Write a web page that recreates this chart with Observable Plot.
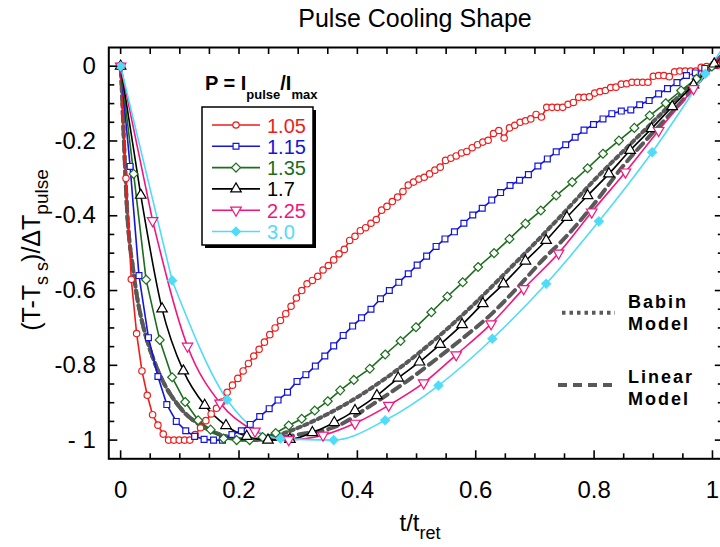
<!DOCTYPE html>
<html><head><meta charset="utf-8">
<script src="https://cdn.jsdelivr.net/npm/d3@7"></script>
<script src="https://cdn.jsdelivr.net/npm/@observablehq/plot@0.6"></script>
<style>
html,body{margin:0;padding:0;background:#fff;overflow:hidden;}
</style></head><body><div id="chart"></div>
<script>
// ---------- data ----------
const redX = [0,0.009,0.018,0.027,0.036,0.045,0.054,0.063,0.072,0.081,0.09,0.099,0.108,0.117,0.126,0.135,0.144,0.153,0.162,0.171,0.18,0.189,0.198,0.207,0.216,0.225,0.234,0.243,0.252,0.261,0.27,0.279,0.288,0.297,0.306,0.315,0.324,0.333,0.342,0.351,0.36,0.369,0.378,0.387,0.396,0.405,0.414,0.423,0.432,0.441,0.45,0.459,0.468,0.477,0.486,0.495,0.504,0.513,0.522,0.531,0.54,0.549,0.558,0.567,0.576,0.585,0.594,0.603,0.612,0.621,0.63,0.639,0.648,0.657,0.666,0.675,0.684,0.693,0.702,0.711,0.72,0.729,0.738,0.747,0.756,0.765,0.774,0.783,0.792,0.801,0.81,0.819,0.828,0.837,0.846,0.855,0.864,0.873,0.882,0.891,0.9,0.909,0.918,0.927,0.936,0.945,0.954,0.963,0.972,0.981,0.99,0.999,1.008,1.017];
const redY = [0,-0.30,-0.57,-0.715,-0.815,-0.88,-0.932,-0.96,-0.984,-1.0,
  -1.0,-1.0,-1.0,-1.0,
  -0.985,-0.967,-0.948,-0.93,-0.915,-0.898,
  -0.872,-0.853,-0.835,-0.815,-0.795,-0.775,-0.757,-0.738,-0.718,-0.7,
  -0.68,-0.662,-0.642,-0.62,-0.6,-0.582,-0.573,-0.562,-0.545,-0.533,
  -0.518,-0.502,-0.49,-0.466,-0.455,-0.44,-0.432,-0.42,-0.41,-0.385,
  -0.375,-0.362,-0.35,-0.335,-0.318,-0.31,-0.302,-0.297,-0.288,-0.278,
  -0.27,-0.252,-0.246,-0.24,-0.232,-0.228,-0.218,-0.21,-0.203,-0.198,
  -0.18,-0.172,-0.192,-0.165,-0.158,-0.15,-0.146,-0.141,-0.129,-0.136,
  -0.11,-0.11,-0.11,-0.11,-0.102,-0.097,-0.083,-0.083,-0.082,-0.072,
  -0.068,-0.065,-0.057,-0.056,-0.048,-0.047,-0.043,-0.043,-0.043,-0.043,
  -0.027,-0.025,-0.025,-0.028,-0.015,-0.013,-0.013,-0.013,-0.013,-0.003,
  -0.001,-0.001,0.002,0.011];

const blueX = [0,0.016,0.031,0.047,0.063,0.078,0.094,0.11,0.125,0.141,0.157,0.172,0.188,0.204,0.219,0.235,0.251,0.266,0.282,0.298,0.313,0.329,0.345,0.36,0.376,0.392,0.407,0.423,0.439,0.454,0.47,0.486,0.501,0.517,0.533,0.548,0.564,0.58,0.595,0.611,0.627,0.642,0.658,0.674,0.689,0.705,0.721,0.736,0.752,0.768,0.783,0.799,0.815,0.83,0.846,0.862,0.877,0.893,0.909,0.924,0.94,0.956,0.971,0.987,1.003,1.018];
const blueY = [0,-0.268,-0.56,-0.726,-0.83,-0.905,-0.95,-0.975,-0.99,-0.998,-1.0,-1.0,-0.985,-0.975,-0.958,-0.937,-0.916,-0.893,-0.872,-0.843,-0.825,-0.802,-0.775,-0.748,-0.72,-0.695,-0.673,-0.65,-0.622,-0.6,-0.578,-0.555,-0.532,-0.508,-0.482,-0.462,-0.443,-0.42,-0.398,-0.38,-0.358,-0.338,-0.319,-0.305,-0.29,-0.267,-0.248,-0.229,-0.21,-0.19,-0.171,-0.156,-0.141,-0.127,-0.12,-0.117,-0.103,-0.092,-0.074,-0.06,-0.044,-0.025,-0.018,-0.006,0.003,0.012];

const greenX = [0,0.022,0.043,0.066,0.087,0.109,0.131,0.152,0.174,0.196,0.218,0.24,0.262,0.284,0.306,0.328,0.35,0.371,0.394,0.421,0.447,0.473,0.499,0.525,0.552,0.578,0.604,0.631,0.657,0.684,0.71,0.736,0.763,0.789,0.815,0.842,0.868,0.894,0.921,0.947,0.973,0.999,1.026];
const greenY = [0,-0.288,-0.571,-0.732,-0.832,-0.898,-0.947,-0.972,-0.996,-1.0,-1.0,-0.992,-0.981,-0.961,-0.943,-0.921,-0.896,-0.867,-0.839,-0.809,-0.771,-0.735,-0.698,-0.658,-0.616,-0.578,-0.537,-0.5,-0.462,-0.421,-0.386,-0.346,-0.31,-0.273,-0.234,-0.199,-0.165,-0.132,-0.099,-0.065,-0.034,-0.001,0.032];

const blackX = [0,0.034,0.07,0.106,0.142,0.178,0.213,0.249,0.286,0.324,0.361,0.396,0.433,0.469,0.505,0.54,0.577,0.612,0.647,0.684,0.719,0.754,0.789,0.825,0.861,0.897,0.932,0.968,1.003,1.039];
const blackY = [0,-0.345,-0.649,-0.815,-0.907,-0.961,-0.99,-1.0,-0.998,-0.98,-0.953,-0.921,-0.881,-0.834,-0.791,-0.744,-0.691,-0.635,-0.582,-0.521,-0.466,-0.404,-0.346,-0.288,-0.225,-0.167,-0.108,-0.05,0.006,0.064];

const pinkX = [0,0.054,0.113,0.168,0.227,0.284,0.342,0.396,0.453,0.512,0.567,0.626,0.681,0.74,0.796,0.853,0.909,0.968,1.025];
const pinkY = [0,-0.413,-0.749,-0.901,-0.976,-0.999,-0.987,-0.955,-0.907,-0.847,-0.772,-0.689,-0.595,-0.5,-0.39,-0.283,-0.172,-0.06,0.05];

const cyanX = [0,0.087,0.18,0.27,0.36,0.447,0.537,0.628,0.719,0.808,0.898,0.988,1.078];
const cyanY = [0,-0.573,-0.892,-0.996,-1.0,-0.947,-0.854,-0.729,-0.582,-0.415,-0.23,-0.02,0.19];

const babinX = [0,0.002,0.005,0.008,0.011,0.015,0.02,0.027,0.035,0.045,0.055,0.066,0.078,0.094,0.11,0.13,0.155,0.185,0.22,0.258,0.303,0.35,0.4,0.45,0.5,0.55,0.6,0.65,0.7,0.75,0.8,0.85,0.9,0.95,1.0,1.03];
const babinY = [0,-0.06,-0.18,-0.29,-0.39,-0.47,-0.53,-0.61,-0.675,-0.735,-0.782,-0.825,-0.862,-0.9,-0.93,-0.955,-0.977,-0.993,-1.0,-0.99,-0.965,-0.93,-0.885,-0.832,-0.772,-0.705,-0.632,-0.553,-0.473,-0.39,-0.305,-0.226,-0.148,-0.07,0.005,0.05];

const linearX = [0,0.002,0.005,0.008,0.011,0.015,0.02,0.027,0.035,0.045,0.055,0.066,0.078,0.094,0.11,0.13,0.155,0.185,0.22,0.26,0.3,0.365,0.425,0.484,0.523,0.58,0.625,0.67,0.715,0.749,0.794,0.85,0.895,0.945,1.0,1.03];
const linearY = [0,-0.06,-0.18,-0.29,-0.39,-0.47,-0.53,-0.61,-0.675,-0.735,-0.782,-0.825,-0.862,-0.9,-0.93,-0.955,-0.977,-0.993,-1.0,-0.995,-0.985,-0.963,-0.905,-0.842,-0.796,-0.725,-0.665,-0.593,-0.515,-0.462,-0.38,-0.265,-0.185,-0.1,0.0,0.05];

const seriesNames = ["1.05","1.15","1.35","1.7","2.25","3.0"];
const xMajor = [0,0.2,0.4,0.6,0.8,1];
const xTickLabels = ["0","0.2","0.4","0.6","0.8","1"];
const xMinor = [0.05,0.1,0.15,0.25,0.3,0.35,0.45,0.5,0.55,0.65,0.7,0.75,0.85,0.9,0.95];
const yMajor = [-1,-0.8,-0.6,-0.4,-0.2,0];
const yTickLabels = ["- 1","-0.8","-0.6","-0.4","-0.2","0"];
const yMinor = [-0.95,-0.9,-0.85,-0.75,-0.7,-0.65,-0.55,-0.5,-0.45,-0.35,-0.3,-0.25,-0.15,-0.1,-0.05];

// ---------- layout ----------
const W = 720, H = 547;
const mt = 47, mb = 88.7, ml = 108.3, mr = -3.8;
const fw = W - ml - mr, fh = H - mt - mb;
const FONT = "'Liberation Sans', Arial, Helvetica, sans-serif";
const GREY = "#595959";
const DOT = "3.5,4", DASH = "9,6";

const styles = [
  {xs: redX,   ys: redY,   color: "#ee1c1c", symbol: "circle",   r: 3.2, fill: "white", rotate: 0,   smooth: false},
  {xs: blueX,  ys: blueY,  color: "#1515dd", symbol: "square",   r: 3.3, fill: "white", rotate: 0,   smooth: false},
  {xs: greenX, ys: greenY, color: "#1b6e1b", symbol: "diamond2", r: 4.0, fill: "white", rotate: 0,   smooth: false},
  {xs: blackX, ys: blackY, color: "#000000", symbol: "triangle", r: 3.9, fill: "white", rotate: 0,   smooth: true},
  {xs: pinkX,  ys: pinkY,  color: "#f2157f", symbol: "triangle", r: 3.9, fill: "white", rotate: 180, smooth: true},
  {xs: cyanX,  ys: cyanY,  color: "#50dcf8", symbol: "diamond2", r: 4.0, fill: "#50dcf8", rotate: 0, smooth: true}
];
const rowsOf = (xs, ys) => xs.map((x, i) => ({x, y: ys[i]}));

const marks = [];
// model curves
marks.push(Plot.line(rowsOf(babinX, babinY), {x: "x", y: "y", stroke: GREY, strokeWidth: 4, strokeDasharray: DOT, curve: "monotone-x"}));
marks.push(Plot.line(rowsOf(linearX, linearY), {x: "x", y: "y", stroke: GREY, strokeWidth: 4, strokeDasharray: DASH, curve: "monotone-x"}));
// data series
for (const s of styles) {
  const rows = rowsOf(s.xs, s.ys);
  if (s.smooth) {
    marks.push(Plot.line(rows.slice(0, 2), {x: "x", y: "y", stroke: s.color, strokeWidth: 1.6}));
    marks.push(Plot.line(rows.slice(1), {x: "x", y: "y", stroke: s.color, strokeWidth: 1.6, curve: "monotone-x"}));
  } else {
    marks.push(Plot.line(rows, {x: "x", y: "y", stroke: s.color, strokeWidth: 1.6}));
  }
}
for (const s of styles) {
  const rows = rowsOf(s.xs, s.ys);
  marks.push(Plot.dot(rows, {x: "x", y: "y", symbol: s.symbol, r: s.r, stroke: s.color, fill: s.fill, strokeWidth: 1.2, rotate: s.rotate}));
}
// inward ticks on all four sides
const tk = {stroke: "black", strokeWidth: 1.6};
marks.push(Plot.tickX(xMajor, {x: d => d, insetTop: fh - 8, ...tk}));
marks.push(Plot.tickX(xMinor, {x: d => d, insetTop: fh - 5, ...tk}));
marks.push(Plot.tickX(xMajor.concat(xMinor), {x: d => d, insetBottom: fh - 7, ...tk}));
marks.push(Plot.tickY(yMajor, {y: d => d, insetRight: fw - 9, ...tk}));
marks.push(Plot.tickY(yMinor, {y: d => d, insetRight: fw - 6, ...tk}));
marks.push(Plot.tickY(yMajor, {y: d => d, insetLeft: fw - 9, ...tk}));
marks.push(Plot.tickY(yMinor, {y: d => d, insetLeft: fw - 6, ...tk}));
marks.push(Plot.frame({stroke: "black", strokeWidth: 2}));

const idx = (arr, d) => arr.findIndex(v => Math.abs(v - d) < 1e-9);
const chart = Plot.plot({
  width: W, height: H,
  marginTop: mt, marginBottom: mb, marginLeft: ml, marginRight: mr,
  style: {fontFamily: FONT, fontSize: "24px", color: "black", background: "white", overflow: "hidden"},
  x: {domain: [-0.02, 1.02], ticks: xMajor, tickSize: 0, tickPadding: 22, tickFormat: d => xTickLabels[idx(xMajor, d)], label: null},
  y: {domain: [-1.05, 0.05], ticks: yMajor, tickSize: 0, tickPadding: 13, tickFormat: d => yTickLabels[idx(yMajor, d)], label: null},
  marks
});
document.getElementById("chart").appendChild(chart);

// ---------- titles and legends ----------
const svg = d3.select(chart);
const g = svg.append("g").attr("font-family", FONT).attr("fill", "black").attr("text-anchor", "start");

g.append("text").attr("x", 415).attr("y", 27).attr("text-anchor", "middle").attr("font-size", 25).text("Pulse Cooling Shape");

const xt = g.append("text").attr("x", 420).attr("y", 531).attr("text-anchor", "middle").attr("font-size", 24);
xt.append("tspan").text("t/t");
xt.append("tspan").attr("font-size", 18).attr("dy", 8).text("ret");

const yt = g.append("text").attr("transform", "translate(40,250) rotate(-90)").attr("text-anchor", "middle").attr("font-size", 25);
yt.append("tspan").text("(T-T");
yt.append("tspan").attr("font-size", 18).attr("dy", 8).text("s s");
yt.append("tspan").attr("dy", -8).text(")/\u0394T");
yt.append("tspan").attr("font-size", 19).attr("dy", 8).text("pulse");

// legend header
const hd = g.append("text").attr("x", 205).attr("y", 90).attr("font-size", 20).attr("font-weight", "bold");
hd.append("tspan").text("P = I");
hd.append("tspan").attr("font-size", 13).attr("dy", 9).text("pulse");
hd.append("tspan").attr("font-size", 20).attr("dy", -9).text("/I");
hd.append("tspan").attr("font-size", 13).attr("dy", 9).text("max");

// legend box with shadow
g.append("rect").attr("x", 205).attr("y", 110).attr("width", 111).attr("height", 138).attr("fill", "black");
g.append("rect").attr("x", 202).attr("y", 107).attr("width", 111).attr("height", 138).attr("fill", "white").attr("stroke", "black").attr("stroke-width", 1.5);

const symMap = {circle: d3.symbolCircle, square: d3.symbolSquare, diamond2: d3.symbolDiamond2, triangle: d3.symbolTriangle};
styles.forEach((s, i) => {
  const cy = 125 + i * 21.3;
  g.append("line").attr("x1", 212).attr("x2", 260).attr("y1", cy).attr("y2", cy).attr("stroke", s.color).attr("stroke-width", 1.6);
  g.append("path").attr("d", d3.symbol(symMap[s.symbol], Math.PI * s.r * s.r)())
    .attr("transform", `translate(236,${cy}) rotate(${s.rotate})`)
    .attr("fill", s.fill).attr("stroke", s.color).attr("stroke-width", 1.2);
  g.append("text").attr("x", 267).attr("y", cy + 7.5).attr("font-size", 20).attr("fill", s.color).text(seriesNames[i]);
});

// model legends
const modelLegend = [
  {dash: DOT, lines: ["Babin", "Model"], y: 312.7, x1: 562, top: 308},
  {dash: DASH, lines: ["Linear", "Model"], y: 385, x1: 558, top: 383}
];
for (const m of modelLegend) {
  g.append("line").attr("x1", m.x1).attr("x2", 615).attr("y1", m.y).attr("y2", m.y)
    .attr("stroke", GREY).attr("stroke-width", 4).attr("stroke-dasharray", m.dash);
  m.lines.forEach((t, j) => {
    g.append("text").attr("x", 628).attr("y", m.top + j * 21.5).attr("font-size", 18).attr("font-weight", "bold")
      .attr("letter-spacing", 2).text(t);
  });
}
</script></body></html>
